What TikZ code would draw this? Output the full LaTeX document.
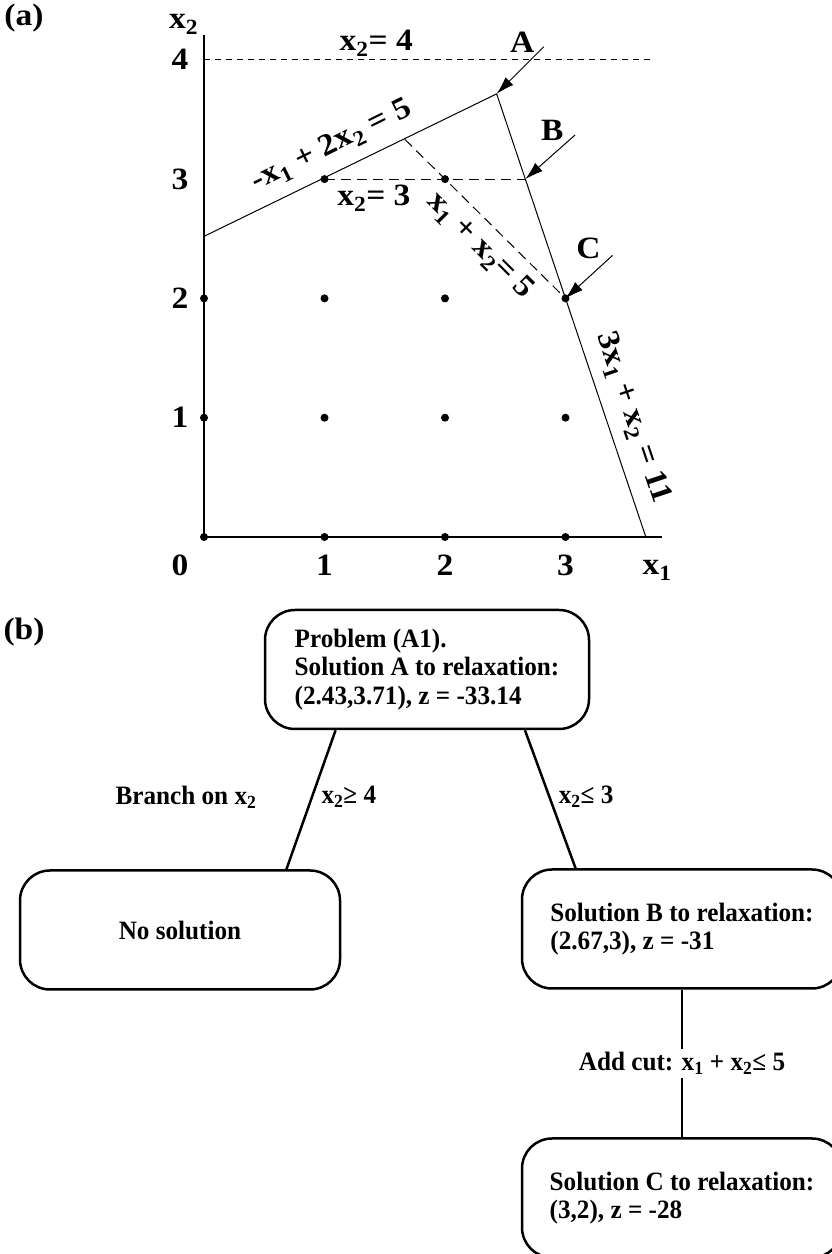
\documentclass[tikz,border=0pt]{standalone}
\usepackage{fontspec}
\setmainfont{Liberation Serif}
\newfontfamily\plotfont[FakeStretch=1.08]{Liberation Serif}
\newfontfamily\treefont[FakeStretch=0.95]{Liberation Serif}
\usetikzlibrary{arrows.meta,calc,positioning}

\begin{document}
\begin{tikzpicture}[x=1pt, y=1pt, >={Latex[length=18pt,width=11pt]},
    plotlbl/.style={font=\plotfont\bfseries\fontsize{31}{36}\selectfont, inner sep=1pt},
    treelbl/.style={font=\treefont\bfseries\fontsize{26.5}{28.5}\selectfont},
    box/.style={treelbl, draw, line width=2.5pt, rounded corners=30pt, align=left,
                minimum width=320pt, minimum height=119pt},
    edge/.style={line width=2.5pt},
    axis/.style={line width=2.2pt},
    bound/.style={line width=1pt},
    cutline/.style={line width=1pt, dash pattern=on 10pt off 6pt}]

  \useasboundingbox (0,0) rectangle (831,1254);

  % ==================== 图 (a): 可行域 ====================
  \node[plotlbl] (tagA) at (24,1236) {(a)};
  \begin{scope}[xshift=204pt, yshift=717pt, x=120.5pt, y=119.3pt]
    % 辅助线
    \draw[line width=1.1pt, dash pattern=on 6pt off 5pt] (0,4) -- (3.73,4);
    \draw[cutline] (1,3) -- (8/3,3);
    \draw[cutline] (5/3,10/3) -- (3,2);

    % 坐标轴
    \draw[axis] (0,4.21) -- (0,0) -- (3.8,0);
    \node[plotlbl] (x2) at (-0.17,4.3) {x\textsubscript{2}};
    \node[plotlbl] (x1) at (3.76,-0.28) {x\textsubscript{1}};
    \node[plotlbl] (o) at (-0.2,-0.235) {0};
    \foreach \i in {1,2,3} \node[plotlbl] (xt\i) at (\i,-0.235) {\i};
    \foreach \i in {1,2,3,4} \node[plotlbl] (yt\i) at (-0.2,\i) {\i};

    % 约束
    \coordinate (A) at (17/7,26/7);
    \coordinate (B) at (8/3,3);
    \coordinate (C) at (3,2);
    \draw[bound] (0,2.52) -- (A) -- (11/3,0);

    % 整数点
    \foreach \i/\j in {0/0,1/0,2/0,3/0,0/1,1/1,2/1,3/1,0/2,1/2,2/2,3/2,1/3,2/3}
      \fill (\i,\j) circle (4pt);

    % 标注
    \node[plotlbl] (l4) at (1.43,4.14) {x\textsubscript{2}= 4};
    \node[plotlbl] (l3) at (1.41,2.84) {x\textsubscript{2}= 3};
    \node[plotlbl, rotate=26.3] (c1) at (1.06,3.28) {-x\textsubscript{1} + 2x\textsubscript{2} = 5};
    \node[plotlbl, rotate=-45] (c3) at (2.29,2.44) {x\textsubscript{1} + x\textsubscript{2}= 5};
    \node[plotlbl, rotate=-71.4] (c2) at (3.56,1.0) {3x\textsubscript{1} + x\textsubscript{2} = 11};

    % 顶点箭头
    \coordinate (At) at (2.82,4.11);
    \coordinate (Bt) at (3.08,3.37);
    \coordinate (Ct) at (3.39,2.36);
    \draw[bound, ->] (At) -- (A);
    \draw[bound, ->] (Bt) -- (B);
    \draw[bound, ->] (Ct) -- (C);
    \node[plotlbl] (lA) at (2.64,4.15) {A};
    \node[plotlbl] (lB) at (2.89,3.41) {B};
    \node[plotlbl] (lC) at (3.19,2.42) {C};
  \end{scope}

  % ==================== 图 (b): 分支树 ====================
  \node[plotlbl] (tagB) at (24,622) {(b)};
  \node[box, minimum width=324pt] (top) at (427,584.5)
    {Problem (A1).\\Solution A to relaxation:\\(2.43,3.71), z = -33.14};
  \node[box] (nosol) at (180,324) {No solution};
  \node[box] (solB) at (682,325) {Solution B to relaxation:\\(2.67,3), z = -31};
  \node[box] (solC) at (682,56) {Solution C to relaxation:\\(3,2), z = -28};

  \draw[edge] ($(top.south west)!0.22!(top.south east)$) -- ($(nosol.north west)!0.83!(nosol.north east)$)
    node[pos=0.48, right=5pt, treelbl] (ge4) {x\textsubscript{2}≥ 4}
    node[pos=0.48, left=51pt, treelbl] (branch) {Branch on x\textsubscript{2}};
  \draw[edge] ($(top.south west)!0.80!(top.south east)$) -- ($(solB.north west)!0.17!(solB.north east)$)
    node[pos=0.48, right=5pt, treelbl] (le3) {x\textsubscript{2}≤ 3};
  \draw[edge] (solB) -- (solC)
    node[midway, fill=white, treelbl] (cut) {Add cut: x\textsubscript{1} + x\textsubscript{2}≤ 5};

\end{tikzpicture}
\end{document}
